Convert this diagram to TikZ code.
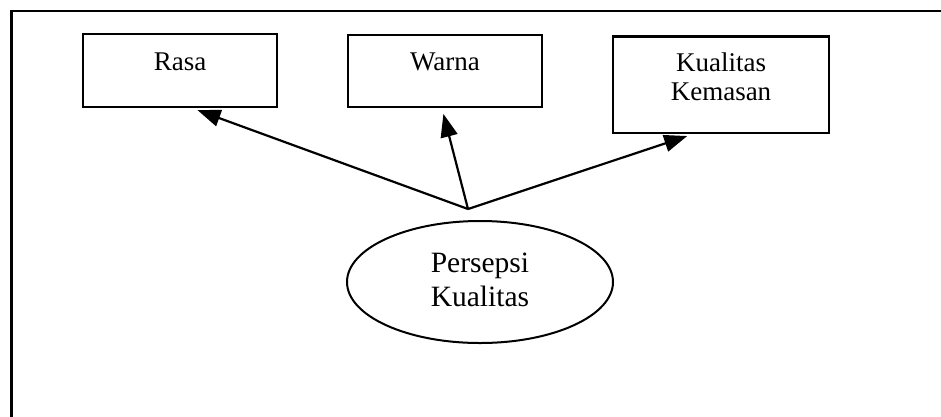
\documentclass[tikz,border=0pt]{standalone}
\usepackage{fontspec}
\setmainfont{Liberation Serif}
\usetikzlibrary{arrows.meta,shapes.geometric,calc}

\tikzset{
  box/.style={draw, line width=2.2pt, rectangle, inner sep=0pt},
  oval/.style={draw, line width=2pt, ellipse, inner sep=0pt,
               minimum width=266pt, minimum height=122pt},
  boxtext/.style={inner sep=0pt, align=center,
                  font=\fontsize{27}{28.5}\selectfont},
  ovaltext/.style={inner sep=0pt, align=center,
                   font=\fontsize{29.5}{33.5}\selectfont},
  arr/.style={line width=2.2pt, -{Triangle[length=23pt,width=17pt]},
              shorten >=6pt},
  frame/.style={line width=2.6pt}
}

\begin{document}
\begin{tikzpicture}[x=1pt,y=-1pt]
  \useasboundingbox (0,0) rectangle (941,416);
  \clip (0,0) rectangle (941,416);
  \fill[white] (0,0) rectangle (941,416);

  % outer frame (runs off the right and bottom edges)
  \draw[frame] (11.5,440) -- (11.5,11) -- (960,11);

  % attribute boxes
  \node[box, minimum width=194pt, minimum height=73pt] (rasa) at (180,70.5) {};
  \node[box, minimum width=194pt, minimum height=72pt] (warna) at (445,71) {};
  \node[box, minimum width=216pt, minimum height=96.5pt] (kemasan) at (721,84.8) {};

  \node[boxtext, anchor=base] (rasaT) at (180,70) {Rasa};
  \node[boxtext, anchor=base] (warnaT) at (445,70.7) {Warna};
  \node[boxtext] (kemasanT) at (721,76.7) {Kualitas\\Kemasan};

  % central construct
  \node[oval] (persepsi) at (480,282) {};
  \node[ovaltext] (persepsiT) at (480,280) {Persepsi\\Kualitas};

  % arrows fan out from a common point above the ellipse
  \coordinate (apex) at (468,209);
  \draw[arr] (apex) -- ([xshift=110pt]rasa.south west);
  \draw[arr] (apex) -- ([xshift=95pt]warna.south west);
  \draw[arr] (apex) -- ([xshift=81pt]kemasan.south west);
\end{tikzpicture}
\end{document}
